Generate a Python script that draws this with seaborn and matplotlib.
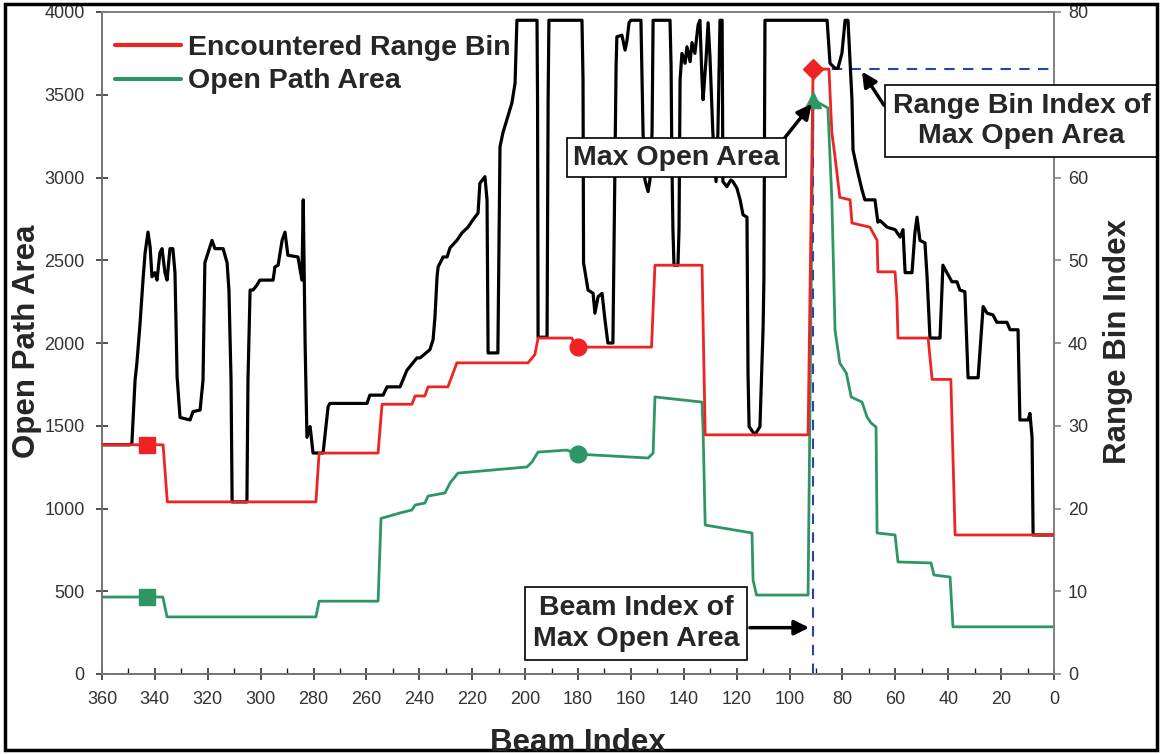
import numpy as np
import pandas as pd
import seaborn as sns
import matplotlib.pyplot as plt
from matplotlib.lines import Line2D
from matplotlib.patches import Rectangle
from matplotlib.ticker import MultipleLocator

# range profile (black, right axis)
black_beam = [360, 349.4, 348.7, 347.5, 346.8, 345.6, 344.5, 343.7, 342.6, 341.8, 341.1, 340.0, 339.2,
              338.1, 337.3, 336.2, 335.4, 334.3, 333.2, 332.4, 331.6, 330.5, 326.7, 325.6, 322.9, 321.8,
              321.1, 319.2, 318.4, 317.3, 314.2, 312.7, 312.0, 311.2, 310.8, 305.2, 304.8, 304.0, 302.9,
              301.4, 300.3, 295.3, 294.6, 293.4, 291.9, 290.8, 289.7, 285.9, 284.4, 283.9, 283.2, 282.5,
              281.3, 280.2, 276.4, 274.5, 273.8, 259.8, 258.7, 253.7, 252.2, 247.3, 244.7, 240.9, 239.7,
              236.0, 234.8, 234.1, 233.3, 232.9, 231.0, 229.5, 228.4, 225.8, 223.9, 221.6, 219.7, 217.8,
              217.1, 215.2, 214.4, 214.0, 210.3, 209.5, 208.4, 205.0, 203.8, 203.1, 195.5, 195.3, 195.1,
              191.7, 191.3, 191.0, 178.5, 178.1, 177.9, 176.2, 174.3, 173.6, 172.4, 170.9, 169.8, 168.7,
              166.8, 165.6, 165.3, 163.4, 162.2, 161.5, 160.7, 160.0, 156.2, 155.4, 154.7, 153.5, 152.8,
              152.0, 151.6, 145.2, 144.8, 144.5, 144.1, 143.7, 142.2, 141.8, 141.4, 140.7, 139.5, 138.8,
              137.6, 136.9, 135.8, 134.6, 133.9, 133.1, 132.7, 131.6, 130.8, 130.1, 129.0, 127.8, 127.1,
              126.3, 125.5, 125.2, 123.7, 122.2, 121.4, 119.9, 118.7, 117.6, 116.1, 115.7, 115.3, 113.1,
              111.2, 110.0, 109.7, 109.3, 85.8, 84.7, 82.8, 81.7, 80.2, 79.0, 77.9, 76.4, 76.0, 74.1, 72.6,
              71.5, 67.7, 66.6, 65.8, 63.1, 60.1, 58.2, 57.1, 56.3, 53.7, 52.6, 51.8, 50.7, 48.8, 48.0,
              46.9, 43.1, 42.0, 40.5, 38.6, 36.7, 35.6, 33.7, 32.5, 28.7, 26.8, 25.3, 23.1, 21.6, 17.8,
              16.6, 13.6, 12.9, 9.8, 9.1, 8.3, 7.9, 0]
black_bin = [27.7, 27.7, 27.9, 35.5, 37.6, 42.4, 47.6, 50.9, 53.4, 51.6, 48.0, 48.5, 47.6,
             50.9, 51.4, 48.5, 47.6, 51.4, 51.4, 48.5, 35.9, 31.0, 30.7, 31.7, 31.9, 35.5,
             49.7, 51.6, 52.4, 51.4, 51.4, 49.7, 46.4, 35.5, 20.8, 20.8, 35.5, 46.4, 46.4,
             47.0, 47.6, 47.6, 49.2, 49.4, 52.4, 53.4, 50.6, 50.4, 47.6, 57.3, 40.0, 28.6,
             29.9, 26.7, 26.7, 32.3, 32.7, 32.7, 33.7, 33.7, 34.7, 34.7, 36.7, 38.2, 38.2,
             39.2, 40.4, 43.1, 48.0, 49.2, 50.4, 50.4, 51.5, 52.4, 53.3, 54.0, 54.9, 55.7,
             59.3, 60.1, 57.3, 38.8, 38.8, 63.7, 65.4, 69.0, 71.4, 79, 79, 69.4, 40.7,
             40.7, 69.4, 79, 79, 71.8, 49.7, 46.4, 46.0, 43.6, 45.6, 46.0, 42.8, 40.0,
             40.0, 73.4, 77.0, 77.2, 75.4, 76.5, 78.7, 79, 79, 65.4, 59.7, 58.3, 59.7,
             65.4, 79, 79, 73.4, 62.1, 53.7, 49.4, 49.4, 53.7, 71.8, 75.0, 73.8, 75.8,
             74.0, 76.3, 75.0, 78.4, 79, 71.8, 69.4, 74.2, 78.7, 74.6, 65.4, 59.5, 65.4,
             79, 79, 59.5, 58.9, 59.7, 59.5, 58.7, 57.3, 55.5, 55.2, 36.1, 29.9, 28.9,
             29.9, 41.9, 47.6, 79, 79, 73.8, 73.2, 73.2, 75.0, 79, 79, 69.4, 63.3, 60.5, 58.5,
             57.3, 57.3, 54.6, 54.8, 54.0, 53.7, 52.8, 53.7, 48.5, 48.5, 53.3, 55.2, 52.4, 52.1, 48.0,
             40.6, 40.6, 49.4, 48.5, 47.4, 47.4, 46.4, 46.2, 35.8, 35.8, 44.4, 43.6, 43.4, 42.5, 42.5,
             41.6, 41.6, 30.7, 30.7, 31.5, 28.6, 16.8, 16.8]

# encountered range bin (red, right axis)
red_beam = [360, 336.9, 335.3, 279.1, 277.9, 255.6, 254.1, 242.8, 241.6, 237.9, 236.7, 229.2, 225.8,
            198.9, 196.3, 195.1, 182.3, 181.0, 152.2, 150.9, 133.1, 131.9, 93.0, 91.1, 85.1, 84.0,
            82.8, 81.0, 77.1, 76.4, 69.6, 66.9, 66.6, 60.1, 59.4, 59.0, 47.6, 46.1, 39.0, 38.2,
            37.4, 0]
red_bin = [27.7, 27.7, 20.8, 20.8, 26.7, 26.7, 32.6, 32.6, 33.6, 33.6, 34.7, 34.7, 37.6,
           37.6, 38.6, 40.6, 40.6, 39.5, 39.5, 49.4, 49.4, 28.9, 28.9, 73.1, 73.1, 65.4,
           62.5, 57.6, 57.3, 54.5, 54.0, 52.4, 48.6, 48.6, 45.2, 40.6, 40.6, 35.6, 35.6, 26.2,
           16.8, 16.8]

# open path area (green, left axis)
green_beam = [360, 337.0, 335.4, 279.1, 277.9, 255.6, 254.5, 247.3, 242.8, 241.6, 237.9, 236.7,
              230.3, 228.4, 225.4, 199.3, 197.4, 195.1, 184.2, 180.4, 153.5, 151.6, 150.9, 133.1,
              132.7, 131.9, 114.2, 113.8, 112.5, 93.0, 91.1, 85.5, 84.0, 82.8, 81.0, 78.5, 76.7,
              72.6, 70.7, 69.2, 67.3, 66.9, 60.1, 59.0, 46.5, 45.4, 39.3, 38.2, 0]
green_area = [465, 465, 345, 345, 440, 440, 940, 973, 991, 1021, 1033, 1075,
              1094, 1154, 1214, 1251, 1281, 1341, 1353, 1329, 1305, 1335, 1674, 1643,
              1474, 900, 852, 568, 477, 477, 3470, 3420, 2864, 2078, 1879, 1817, 1674,
              1643, 1553, 1517, 1492, 852, 840, 677, 671, 598, 586, 285, 285]

marker_beam = [343, 180, 91.1]
marker_red = [27.7, 39.5, 73.1]
marker_green = [465, 1329, 3468]

max_beam = 91.1
max_bin = 73.1

RED = '#EE2424'
GREEN = '#2E9664'
BLUE = '#2744A8'

sns.set_style('white')
plt.rcParams['font.family'] = ['Liberation Sans', 'DejaVu Sans']

fig = plt.figure(figsize=(11.6, 7.54), dpi=100)
ax = fig.add_axes([102 / 1160, 1 - 674 / 754, 952 / 1160, 662 / 754])
ax2 = ax.twinx()

df_black = pd.DataFrame({'beam': black_beam, 'bin': black_bin})
df_red = pd.DataFrame({'beam': red_beam, 'bin': red_bin})
df_green = pd.DataFrame({'beam': green_beam, 'area': green_area})

sns.lineplot(data=df_green, x='beam', y='area', ax=ax, color=GREEN, lw=2.0,
             sort=False, estimator=None)
sns.lineplot(data=df_black, x='beam', y='bin', ax=ax2, color='black', lw=2.3,
             sort=False, estimator=None, zorder=2)
sns.lineplot(data=df_red, x='beam', y='bin', ax=ax2, color=RED, lw=2.0,
             sort=False, estimator=None, zorder=3)

# dashed guides for max open area
ax2.plot([max_beam, max_beam], [0, max_bin], color=BLUE, lw=1.5, ls=(0, (5, 4)), zorder=1.5)
ax2.plot([max_beam, 0], [max_bin, max_bin], color=BLUE, lw=1.5, ls=(0, (5, 4)), zorder=1.5)

# markers (green values shown on the bin axis: 4000 area == 80 bins)
ax2.plot(marker_beam[0], marker_red[0], 's', color=RED, ms=11, zorder=5)
ax2.plot(marker_beam[1], marker_red[1], 'o', color=RED, ms=12, zorder=5)
ax2.plot(marker_beam[2], marker_red[2], 'D', color=RED, ms=10, zorder=5)
ax2.plot(marker_beam[0], marker_green[0] / 50, 's', color=GREEN, ms=11, zorder=5)
ax2.plot(marker_beam[1], marker_green[1] / 50, 'o', color=GREEN, ms=12, zorder=5)
ax2.plot(marker_beam[2], marker_green[2] / 50, '^', color=GREEN, ms=11, zorder=5)

ax.set_xlim(360, 0)
ax.set_ylim(0, 4000)
ax2.set_ylim(0, 80)
ax.xaxis.set_major_locator(MultipleLocator(20))
ax.xaxis.set_minor_locator(MultipleLocator(10))
ax.yaxis.set_major_locator(MultipleLocator(500))
ax2.yaxis.set_major_locator(MultipleLocator(10))

ax.set_xlabel('')
ax.set_ylabel('')
ax2.set_ylabel('')

for a in (ax, ax2):
    for s in a.spines.values():
        s.set_color('#808080')
        s.set_linewidth(1.2)
ax.spines['left'].set_color('#202020')
ax.spines['bottom'].set_color('#202020')

ax.tick_params(axis='x', which='major', direction='inout', length=9, width=1.1,
               color='#202020', labelsize=13, labelcolor='#333333', pad=8, bottom=True)
ax.tick_params(axis='x', which='minor', direction='in', length=4, width=1.0,
               color='#202020', bottom=True)
ax.tick_params(axis='y', direction='inout', length=9, width=1.1, color='#202020',
               labelsize=13, labelcolor='#333333', pad=8, left=True)
ax2.tick_params(axis='y', direction='out', length=5, width=1.1, color='#808080',
                labelsize=13, labelcolor='#333333', pad=5, right=True)

bold = dict(fontsize=22.5, fontweight='bold')
fig.text(27 / 1160, 1 - 341 / 754, 'Open Path Area', rotation=90, ha='center', va='center', **bold)
fig.text(1118 / 1160, 1 - 342 / 754, 'Range Bin Index', rotation=90, ha='center', va='center', **bold)
fig.text(578 / 1160, 1 - 728 / 754, 'Beam Index', ha='center', va='top', **bold)

handles = [Line2D([], [], color=RED, lw=3), Line2D([], [], color=GREEN, lw=3)]
ax2.legend(handles, ['Encountered Range Bin', 'Open Path Area'], loc='upper left',
           bbox_to_anchor=(0.0137, 0.966), frameon=False, borderpad=0, borderaxespad=0,
           handlelength=2.3, handletextpad=0.25, labelspacing=0.28,
           prop=dict(size=20.5, weight='bold'))

box = dict(boxstyle='square,pad=0.22', fc='white', ec='black', lw=1.2)
arrow = dict(arrowstyle='-|>', color='black', lw=2.5, mutation_scale=22, shrinkA=0, shrinkB=0)

ax2.annotate('Max Open Area', xy=(91.6, 68.9), xytext=(142.9, 62.4), ha='center', va='center',
             fontsize=20.5, fontweight='bold', bbox=box, zorder=10,
             arrowprops=dict(arrow, relpos=(1, 1)))
ax2.annotate('Range Bin Index of\nMax Open Area', xy=(72.6, 72.8), xytext=(12.3, 66.8),
             ha='center', va='center', fontsize=20.5, fontweight='bold', linespacing=1.22,
             bbox=dict(box, boxstyle='square,pad=0.28'), zorder=10, annotation_clip=False,
             arrowprops=dict(arrow, relpos=(0, 0.55)))
ax2.text(158.1, 6.1, 'Beam Index of\nMax Open Area', ha='center', va='center', fontsize=20.5,
         fontweight='bold', linespacing=1.22, bbox=dict(box, boxstyle='square,pad=0.28'), zorder=10)
ax2.annotate('', xy=(92.6, 5.6), xytext=(115.0, 5.6), arrowprops=arrow, zorder=10)

fig.patches.append(Rectangle((5 / 1160, 4 / 754), 1152 / 1160, 746 / 754, transform=fig.transFigure,
                             fill=False, ec='black', lw=2.5))

fig.savefig('out.png', dpi=100)
